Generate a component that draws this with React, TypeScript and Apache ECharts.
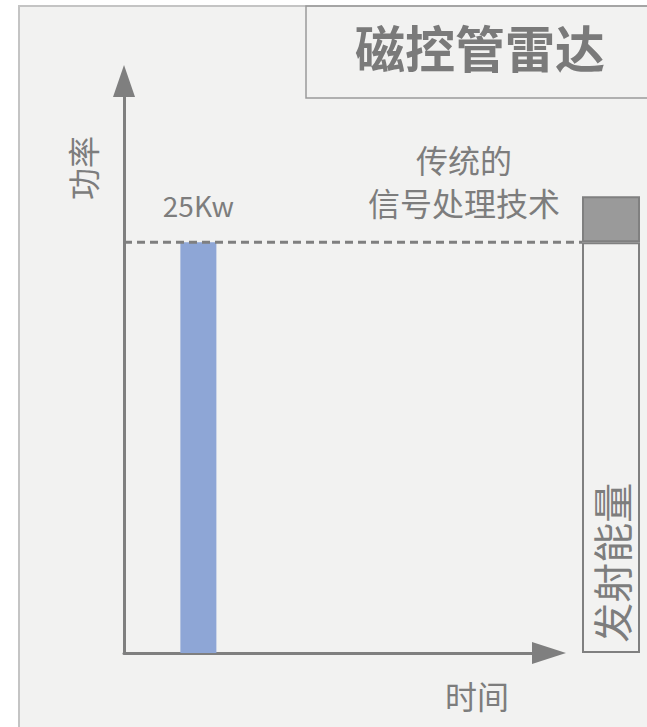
import React, { useEffect, useRef } from "react";
import * as echarts from "echarts";

// ---- data ----
const pulseTime = [1.75]; // position of the transmit pulse on the time axis
const pulsePower = [25]; // Kw, peak power of the magnetron pulse
const energyCategories = ["发射能量"];
const energyLevel = [25]; // transmitted energy
const processingGain = [2.8]; // extra from traditional signal processing
const titleText = "磁控管雷达";
const processingText = "传统的\n信号处理技术";
const xAxisName = "时间";
const yAxisName = "功率";
const powerUnit = "Kw";

const FONT = '"Noto Sans CJK SC", "Noto Sans", sans-serif';
const GRAY = "#7f7f7f";
const TEXT = "#7d7d7d";

export default function App() {
  const ref = useRef<HTMLDivElement>(null);
  useEffect(() => {
    if (!ref.current) return;
    const chart = echarts.init(ref.current, null, { renderer: "svg" });
    const top = 78;
    const bottom = 727 - 653;
    const yMax = 35;
    chart.setOption({
      animation: false,
      backgroundColor: "#ffffff",
      title: {
        text: titleText,
        left: 355,
        top: 21,
        padding: 0,
        textStyle: { fontSize: 50, fontWeight: "bold", color: "#7a7a7a", fontFamily: FONT },
      },
      graphic: [
        {
          type: "rect",
          z: -10,
          shape: { x: 19, y: 6, width: 640, height: 730 },
          style: { fill: "#f2f2f1", stroke: "#c4c4c4", lineWidth: 2 },
        },
        {
          type: "rect",
          z: -9,
          shape: { x: 306, y: 6, width: 360, height: 92 },
          style: { fill: "none", stroke: "#9a9a9a", lineWidth: 1.5 },
        },
      ],
      grid: [
        { left: 124, width: 425, top, bottom },
        { left: 124, width: 458, top, bottom },
        { left: 582, width: 58, top, bottom },
      ],
      xAxis: [
        {
          type: "value",
          gridIndex: 0,
          min: 0,
          max: 10,
          name: xAxisName,
          nameLocation: "end",
          nameGap: -72,
          nameTextStyle: {
            fontSize: 32,
            color: TEXT,
            fontFamily: FONT,
            align: "center",
            verticalAlign: "top",
            padding: [26, 0, 0, 0],
          },
          axisLine: {
            show: true,
            symbol: ["none", "triangle"],
            symbolSize: [22, 34],
            lineStyle: { color: GRAY, width: 3 },
          },
          axisTick: { show: false },
          axisLabel: { show: false },
          splitLine: { show: false },
        },
        { type: "value", gridIndex: 1, min: 0, max: 1, show: false },
        { type: "category", gridIndex: 2, data: energyCategories, show: false },
      ],
      yAxis: [
        {
          type: "value",
          gridIndex: 0,
          min: 0,
          max: yMax,
          name: yAxisName,
          nameLocation: "end",
          nameGap: -90,
          nameRotate: 90,
          nameTextStyle: {
            fontSize: 32,
            color: TEXT,
            fontFamily: FONT,
            align: "center",
            verticalAlign: "bottom",
            padding: [0, 0, 26, 0],
          },
          axisLine: {
            show: true,
            symbol: ["none", "triangle"],
            symbolSize: [22, 32],
            symbolOffset: [0, -3],
            lineStyle: { color: GRAY, width: 3 },
          },
          axisTick: { show: false },
          axisLabel: { show: false },
          splitLine: { show: false },
        },
        { type: "value", gridIndex: 1, min: 0, max: yMax, show: false },
        { type: "value", gridIndex: 2, min: 0, max: yMax, show: false },
      ],
      series: [
        {
          type: "bar",
          name: "脉冲功率",
          xAxisIndex: 0,
          yAxisIndex: 0,
          barWidth: 36,
          z: 2,
          data: pulseTime.map((t, i) => [t, pulsePower[i]]),
          itemStyle: { color: "#8ea6d6" },
          label: {
            show: true,
            position: "top",
            distance: 23,
            fontSize: 28,
            color: TEXT,
            fontFamily: FONT,
            formatter: (p: any) => `${p.value[1]}${powerUnit}`,
          },
        },
        {
          type: "line",
          name: "功率基准",
          xAxisIndex: 1,
          yAxisIndex: 1,
          z: 3,
          symbol: "none",
          data: [
            [0, pulsePower[0]],
            [1, pulsePower[0]],
          ],
          lineStyle: { color: GRAY, width: 3, type: [8, 5] },
        },
        {
          type: "bar",
          name: "发射能量",
          xAxisIndex: 2,
          yAxisIndex: 2,
          stack: "box",
          barWidth: "100%",
          data: energyLevel,
          itemStyle: { color: "rgba(0,0,0,0)", borderColor: "#808080", borderWidth: 2 },
          label: {
            show: true,
            position: ["50%", "78%"],
            rotate: 90,
            align: "center",
            verticalAlign: "middle",
            fontSize: 40,
            color: TEXT,
            fontFamily: FONT,
            formatter: (p: any) => p.name,
          },
        },
        {
          type: "bar",
          name: "信号处理",
          xAxisIndex: 2,
          yAxisIndex: 2,
          stack: "box",
          barWidth: "100%",
          data: processingGain,
          itemStyle: { color: "#9a9a9a", borderColor: "#808080", borderWidth: 2 },
          label: {
            show: true,
            position: "left",
            distance: 118,
            align: "center",
            verticalAlign: "middle",
            offset: [0, -39],
            lineHeight: 43,
            fontSize: 32,
            color: TEXT,
            fontFamily: FONT,
            formatter: () => processingText,
          },
        },
      ],
    });
    return () => chart.dispose();
  }, []);
  return (
    <div
      ref={ref}
      style={{ position: "fixed", left: 0, top: 0, width: 647, height: 727 }}
    />
  );
}
